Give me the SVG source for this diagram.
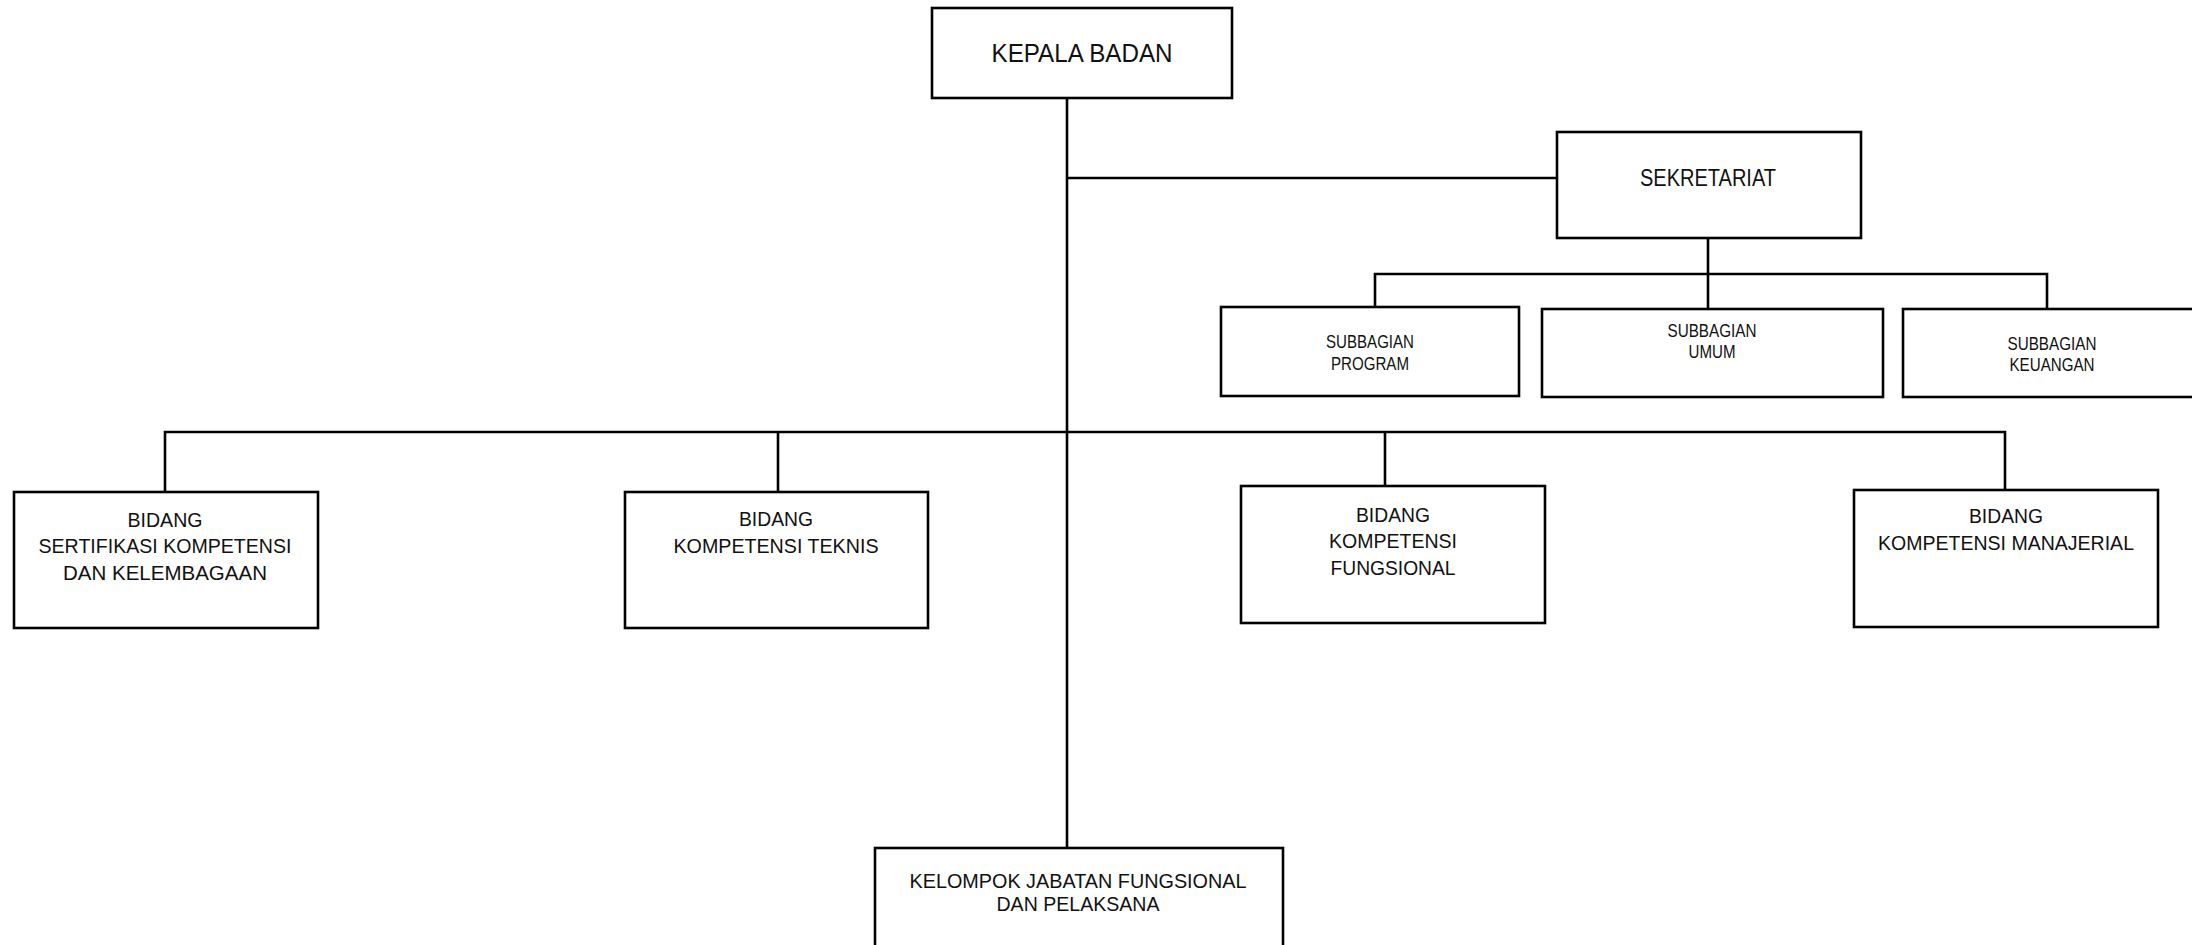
<svg xmlns="http://www.w3.org/2000/svg" width="2192" height="945" viewBox="0 0 2192 945">
  <style>
    .box { fill: #ffffff; stroke: #000000; stroke-width: 2.6; }
    .link { fill: none; stroke: #000000; stroke-width: 2.6; }
    text { font-family: "Liberation Sans", Arial, sans-serif; fill: #111111; text-anchor: middle; }
    .t25 { font-size: 25px; }
    .t23 { font-size: 23px; }
    .t21 { font-size: 21px; }
    .t18 { font-size: 18px; }
  </style>
  <rect x="0" y="0" width="2192" height="945" fill="#ffffff"/>

  <!-- connectors -->
  <g id="connectors">
    <line class="link" x1="1067" y1="98" x2="1067" y2="849"/>
    <line class="link" x1="1067" y1="178" x2="1557" y2="178"/>
    <line class="link" x1="1708" y1="238" x2="1708" y2="309"/>
    <polyline class="link" points="1375,307 1375,274 2047,274 2047,309"/>
    <polyline class="link" points="165,492 165,432 2005,432 2005,490"/>
    <line class="link" x1="778" y1="432" x2="778" y2="492"/>
    <line class="link" x1="1385" y1="432" x2="1385" y2="486"/>
  </g>

  <g id="kepala-badan">
    <rect class="box" x="932" y="8" width="300" height="90"/>
    <text class="t25" x="1082" y="62" textLength="181" lengthAdjust="spacingAndGlyphs">KEPALA BADAN</text>
  </g>

  <g id="sekretariat">
    <rect class="box" x="1557" y="132" width="304" height="106"/>
    <text class="t23" x="1708" y="186" textLength="136" lengthAdjust="spacingAndGlyphs">SEKRETARIAT</text>
  </g>

  <g id="subbagian-program">
    <rect class="box" x="1221" y="307" width="298" height="89"/>
    <text class="t18" x="1370" y="348" textLength="88" lengthAdjust="spacingAndGlyphs">SUBBAGIAN</text>
    <text class="t18" x="1370" y="370" textLength="78" lengthAdjust="spacingAndGlyphs">PROGRAM</text>
  </g>

  <g id="subbagian-umum">
    <rect class="box" x="1542" y="309" width="341" height="88"/>
    <text class="t18" x="1712" y="337" textLength="89" lengthAdjust="spacingAndGlyphs">SUBBAGIAN</text>
    <text class="t18" x="1712" y="358" textLength="47" lengthAdjust="spacingAndGlyphs">UMUM</text>
  </g>

  <g id="subbagian-keuangan">
    <rect class="box" x="1903" y="309" width="310" height="88"/>
    <text class="t18" x="2052" y="350" textLength="89" lengthAdjust="spacingAndGlyphs">SUBBAGIAN</text>
    <text class="t18" x="2052" y="371" textLength="85" lengthAdjust="spacingAndGlyphs">KEUANGAN</text>
  </g>

  <g id="bidang-sertifikasi">
    <rect class="box" x="14" y="492" width="304" height="136"/>
    <text class="t21" x="165" y="527" textLength="75" lengthAdjust="spacingAndGlyphs">BIDANG</text>
    <text class="t21" x="165" y="553" textLength="253" lengthAdjust="spacingAndGlyphs">SERTIFIKASI KOMPETENSI</text>
    <text class="t21" x="165" y="580" textLength="204" lengthAdjust="spacingAndGlyphs">DAN KELEMBAGAAN</text>
  </g>

  <g id="bidang-teknis">
    <rect class="box" x="625" y="492" width="303" height="136"/>
    <text class="t21" x="776" y="526" textLength="74" lengthAdjust="spacingAndGlyphs">BIDANG</text>
    <text class="t21" x="776" y="553" textLength="205" lengthAdjust="spacingAndGlyphs">KOMPETENSI TEKNIS</text>
  </g>

  <g id="bidang-fungsional">
    <rect class="box" x="1241" y="486" width="304" height="137"/>
    <text class="t21" x="1393" y="522" textLength="74" lengthAdjust="spacingAndGlyphs">BIDANG</text>
    <text class="t21" x="1393" y="548" textLength="128" lengthAdjust="spacingAndGlyphs">KOMPETENSI</text>
    <text class="t21" x="1393" y="575" textLength="125" lengthAdjust="spacingAndGlyphs">FUNGSIONAL</text>
  </g>

  <g id="bidang-manajerial">
    <rect class="box" x="1854" y="490" width="304" height="137"/>
    <text class="t21" x="2006" y="523" textLength="74" lengthAdjust="spacingAndGlyphs">BIDANG</text>
    <text class="t21" x="2006" y="550" textLength="256" lengthAdjust="spacingAndGlyphs">KOMPETENSI MANAJERIAL</text>
  </g>

  <g id="kelompok-jabatan">
    <rect class="box" x="875" y="848" width="408" height="120"/>
    <text class="t21" x="1078" y="888" textLength="337" lengthAdjust="spacingAndGlyphs">KELOMPOK JABATAN FUNGSIONAL</text>
    <text class="t21" x="1078" y="911" textLength="163" lengthAdjust="spacingAndGlyphs">DAN PELAKSANA</text>
  </g>
</svg>
